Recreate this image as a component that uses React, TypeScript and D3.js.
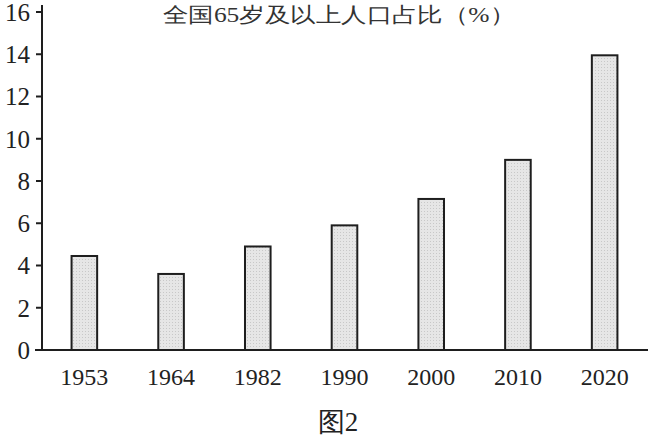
import React from "react";
import * as d3 from "d3";

const categories = ["1953", "1964", "1982", "1990", "2000", "2010", "2020"];
const values = [4.45, 3.6, 4.9, 5.9, 7.15, 9.0, 13.95];
const yTicks = [0, 2, 4, 6, 8, 10, 12, 14, 16];
const title = "全国65岁及以上人口占比（%）";
const caption = "图2";

const W = 651;
const H = 438;

export default function App() {
  const x = d3
    .scaleBand<string>()
    .domain(categories)
    .range([41, 648])
    .paddingInner(0.705)
    .paddingOuter(0.3525);
  const y = d3.scaleLinear().domain([0, 16]).range([350, 12]);
  const ink = "#1e1e1e";
  const serif = "'Liberation Serif', 'DejaVu Serif', serif";

  return (
    <svg
      width={W}
      height={H}
      style={{ position: "absolute", left: 0, top: 0, background: "#fff" }}
    >
      <defs>
        <pattern id="dots" width="3" height="3" patternUnits="userSpaceOnUse">
          <rect width="3" height="3" fill="#e6e6e6" />
          <rect x="1" y="1" width="1" height="1" fill="#c8c8c8" />
        </pattern>
      </defs>
      {/* title */}
      <text
        x={339}
        y={22}
        textAnchor="middle"
        fontFamily={serif}
        fontSize={21}
        fill="#333"
        textLength={352}
        lengthAdjust="spacingAndGlyphs"
      >
        {title}
      </text>
      {/* bars */}
      {categories.map((c, i) => (
        <rect
          key={c}
          x={x(c)}
          y={y(values[i])}
          width={x.bandwidth()}
          height={y(0) - y(values[i])}
          fill="url(#dots)"
          stroke={ink}
          strokeWidth={2}
        />
      ))}
      {/* y axis */}
      <line x1={42} x2={42} y1={5} y2={351} stroke={ink} strokeWidth={2} />
      {yTicks.map((t) => (
        <g key={t}>
          <line x1={36} x2={42} y1={y(t)} y2={y(t)} stroke={ink} strokeWidth={2} />
          <text
            x={30}
            y={y(t)}
            dy="0.35em"
            textAnchor="end"
            fontFamily={serif}
            fontSize={25}
            fill="#222"
          >
            {t}
          </text>
        </g>
      ))}
      {/* x axis */}
      <line x1={35} x2={648} y1={y(0)} y2={y(0)} stroke={ink} strokeWidth={2} />
      {categories.map((c) => (
        <text
          key={c}
          x={(x(c) as number) + x.bandwidth() / 2}
          y={385}
          textAnchor="middle"
          fontFamily={serif}
          fontSize={24}
          fill="#222"
        >
          {c}
        </text>
      ))}
      {/* caption */}
      <text
        x={338}
        y={431}
        textAnchor="middle"
        fontFamily={serif}
        fontSize={27}
        fill="#222"
      >
        {caption}
      </text>
    </svg>
  );
}
